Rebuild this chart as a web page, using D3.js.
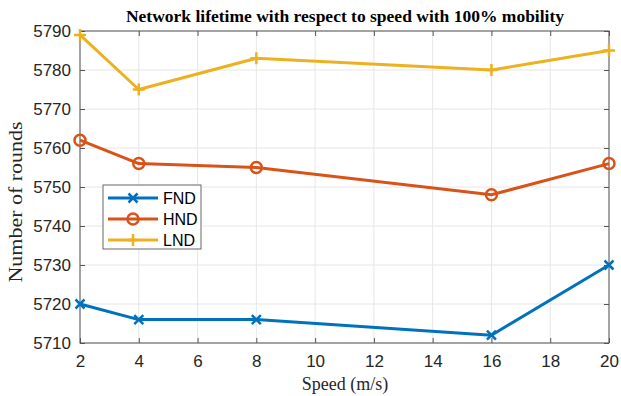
<!DOCTYPE html>
<html>
<head>
<meta charset="utf-8">
<script src="https://cdn.jsdelivr.net/npm/d3@7/dist/d3.min.js"></script>
<style>
  html, body { margin: 0; padding: 0; background: #fff; }
  svg { display: block; }
</style>
</head>
<body>
<svg id="chart" width="621" height="396"></svg>
<script>
// Network lifetime (rounds) versus node speed
const speeds = [2, 4, 8, 16, 20];
const fnd = [5720, 5716, 5716, 5712, 5730];
const hnd = [5762, 5756, 5755, 5748, 5756];
const lnd = [5789, 5775, 5783, 5780, 5785];
const xTicks = [2, 4, 6, 8, 10, 12, 14, 16, 18, 20];
const yTicks = [5710, 5720, 5730, 5740, 5750, 5760, 5770, 5780, 5790];
const seriesNames = ["FND", "HND", "LND"];
const seriesColors = ["#0072BD", "#D95319", "#EDB120"];
const seriesMarkers = ["x", "o", "+"];

const series = seriesNames.map((name, i) => ({
  name, color: seriesColors[i], marker: seriesMarkers[i],
  values: [fnd, hnd, lnd][i].map((v, j) => ({ x: speeds[j], y: v }))
}));

const svg = d3.select("#chart");
const m = { left: 80, right: 12, top: 31, bottom: 53 };
const W = 621, H = 396;
const x = d3.scaleLinear().domain([2, 20]).range([m.left, W - m.right]);
const y = d3.scaleLinear().domain([5710, 5790]).range([H - m.bottom, m.top]);
const x0 = x.range()[0], x1 = x.range()[1], y0 = y.range()[0], y1 = y.range()[1];

const tickFont = "'Liberation Sans', Arial, Helvetica, sans-serif";
const serif = "'Liberation Serif', 'Times New Roman', serif";

// grid
const grid = svg.append("g");
grid.selectAll(".gx").data(xTicks).join("line")
  .attr("x1", d => x(d)).attr("x2", d => x(d)).attr("y1", y0).attr("y2", y1)
  .attr("stroke", "#e6e6e6").attr("stroke-width", 1);
grid.selectAll(".gy").data(yTicks).join("line")
  .attr("x1", x0).attr("x2", x1).attr("y1", d => y(d)).attr("y2", d => y(d))
  .attr("stroke", "#e6e6e6").attr("stroke-width", 1);

// axes with inward ticks
const axisColor = "#555";
function styleAxis(g) {
  g.select(".domain").remove();
  g.selectAll(".tick line").attr("stroke", axisColor);
  g.selectAll(".tick text").attr("fill", "#262626")
    .style("font-family", tickFont).style("font-size", "17px");
}
svg.append("g").attr("transform", `translate(0,${y0})`)
  .call(d3.axisBottom(x).tickValues(xTicks).tickFormat(d3.format("d"))
    .tickSizeInner(-5).tickSizeOuter(0).tickPadding(12))
  .call(styleAxis);
svg.append("g").attr("transform", `translate(0,${y1})`)
  .call(d3.axisTop(x).tickValues(xTicks).tickSizeInner(-5).tickSizeOuter(0).tickFormat(""))
  .call(styleAxis);
svg.append("g").attr("transform", `translate(${x0},0)`)
  .call(d3.axisLeft(y).tickValues(yTicks).tickFormat(d3.format("d"))
    .tickSizeInner(-5).tickSizeOuter(0).tickPadding(9))
  .call(styleAxis);
svg.append("g").attr("transform", `translate(${x1},0)`)
  .call(d3.axisRight(y).tickValues(yTicks).tickSizeInner(-5).tickSizeOuter(0).tickFormat(""))
  .call(styleAxis);
svg.append("rect").attr("x", x0).attr("y", y1).attr("width", x1 - x0).attr("height", y0 - y1)
  .attr("fill", "none").attr("stroke", axisColor).attr("stroke-width", 1);

// markers
function drawMarker(g, type, color, cx, cy) {
  if (type === "o") {
    g.append("circle").attr("cx", cx).attr("cy", cy).attr("r", 5.5)
      .attr("fill", "none").attr("stroke", color).attr("stroke-width", 2.5);
  } else if (type === "x") {
    const s = 4.5;
    g.append("path").attr("d", `M${cx - s},${cy - s}L${cx + s},${cy + s}M${cx - s},${cy + s}L${cx + s},${cy - s}`)
      .attr("stroke", color).attr("stroke-width", 2.5);
  } else {
    const s = 6;
    g.append("path").attr("d", `M${cx - s},${cy}L${cx + s},${cy}M${cx},${cy - s}L${cx},${cy + s}`)
      .attr("stroke", color).attr("stroke-width", 2.5);
  }
}

const line = d3.line().x(d => x(d.x)).y(d => y(d.y));
series.forEach(s => {
  const g = svg.append("g");
  g.append("path").datum(s.values).attr("d", line)
    .attr("fill", "none").attr("stroke", s.color).attr("stroke-width", 3)
    .attr("stroke-linejoin", "round");
  s.values.forEach(d => drawMarker(g, s.marker, s.color, x(d.x), y(d.y)));
});

// title and axis labels
svg.append("text").attr("x", 345).attr("y", 22).attr("text-anchor", "middle")
  .style("font-family", serif).style("font-weight", "bold").style("font-size", "17.5px")
  .attr("fill", "#000").text("Network lifetime with respect to speed with 100% mobility");
svg.append("text").attr("x", 345).attr("y", 390).attr("text-anchor", "middle")
  .style("font-family", serif).style("font-size", "18px").attr("fill", "#262626")
  .text("Speed (m/s)");
svg.append("text").attr("transform", "translate(22,202) rotate(-90)")
  .attr("text-anchor", "middle")
  .attr("textLength", 161).attr("lengthAdjust", "spacingAndGlyphs")
  .style("font-family", serif).style("font-size", "19px").attr("fill", "#262626")
  .text("Number of rounds");

// legend
const leg = svg.append("g").attr("transform", "translate(103,185)");
leg.append("rect").attr("width", 98).attr("height", 64)
  .attr("fill", "#fff").attr("stroke", "#666").attr("stroke-width", 1);
series.forEach((s, i) => {
  const cy = 13 + i * 21;
  leg.append("line").attr("x1", 5).attr("x2", 55).attr("y1", cy).attr("y2", cy)
    .attr("stroke", s.color).attr("stroke-width", 3);
  drawMarker(leg, s.marker, s.color, 30, cy);
  leg.append("text").attr("x", 60).attr("y", cy + 6)
    .style("font-family", tickFont).style("font-size", "16px").attr("fill", "#000")
    .text(s.name);
});
</script>
</body>
</html>
